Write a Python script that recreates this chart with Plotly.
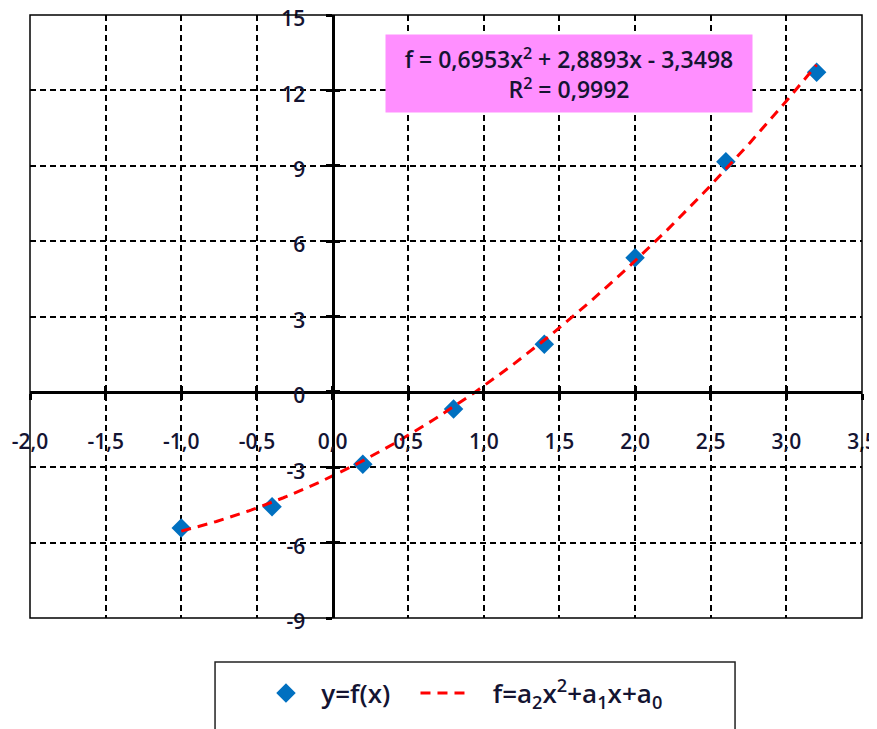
import numpy as np
import plotly.graph_objects as go

# ---- data ----
x_data = [-1.0, -0.4, 0.2, 0.8, 1.4, 2.0, 2.6, 3.2]
y_data = [-5.42, -4.57, -2.88, -0.68, 1.90, 5.34, 9.16, 12.72]
coef = [0.6953, 2.8893, -3.3498]   # a2, a1, a0 (shown fit)
r2_text = "0,9992"

x_ticks = [-2.0, -1.5, -1.0, -0.5, 0.0, 0.5, 1.0, 1.5, 2.0, 2.5, 3.0, 3.5]
x_ticktext = ["-2,0", "-1,5", "-1,0", "-0,5", "0,0", "0,5", "1,0", "1,5", "2,0", "2,5", "3,0", "3,5"]
y_ticks = [-9, -6, -3, 0, 3, 6, 9, 12, 15]
y_ticktext = ["-9", "-6", "-3", "0", "3", "6", "9", "12", "15"]

x_range = [-2.0, 3.5]
y_range = [-9, 15]

FONT = "Open Sans"
TXT = "#141432"
NB = "\u00a0"

# fitted curve from the displayed coefficients
xc = np.linspace(min(x_data), max(x_data), 200)
yc = np.polyval(coef, xc)

fig = go.Figure()
fig.add_trace(go.Scatter(
    x=x_data, y=y_data, mode="markers", name=NB + "y=f(x)" + NB * 3,
    marker=dict(symbol="diamond", size=15, color="#0070C0"),
))
fig.add_trace(go.Scatter(
    x=xc, y=yc, mode="lines",
    name=NB * 3 + "f=a<sub>2</sub>x<sup>2</sup>+a<sub>1</sub>x+a<sub>0</sub>",
    line=dict(color="#FF0000", width=3, dash="10px,7px"),
))
# dummy traces for the overlay axes (inside tick halves)
fig.add_trace(go.Scatter(x=[None], y=[None], xaxis="x2", yaxis="y", showlegend=False, hoverinfo="skip"))
fig.add_trace(go.Scatter(x=[None], y=[None], xaxis="x", yaxis="y2", showlegend=False, hoverinfo="skip"))

x_pos = (0 - y_range[0]) / (y_range[1] - y_range[0])
y_pos = (0 - x_range[0]) / (x_range[1] - x_range[0])

common_grid = dict(showgrid=True, gridcolor="black", gridwidth=1.5, griddash="6px,4px", zeroline=False)
tick_font = dict(family=FONT, size=21, color=TXT, weight=600)

fig.update_layout(
    width=869, height=721,
    margin=dict(l=22, r=15, t=7, b=111, autoexpand=False),
    paper_bgcolor="white", plot_bgcolor="white",
    font=dict(family=FONT, size=18, color="black"),
    showlegend=True,
    xaxis=dict(
        range=x_range, tickvals=x_ticks, ticktext=x_ticktext,
        anchor="free", position=x_pos,
        showline=True, linecolor="black", linewidth=3,
        ticks="outside", ticklen=6, tickwidth=3, tickcolor="black",
        ticklabelstandoff=24, tickfont=tick_font, ticklabeloverflow="allow",
        **common_grid,
    ),
    yaxis=dict(
        range=y_range, tickvals=y_ticks, ticktext=y_ticktext,
        anchor="free", position=y_pos,
        showline=True, linecolor="black", linewidth=3,
        ticks="outside", ticklen=6, tickwidth=3, tickcolor="black",
        ticklabelstandoff=16, ticklabelshift=4, tickfont=tick_font, ticklabeloverflow="allow",
        **common_grid,
    ),
    xaxis2=dict(
        range=x_range, tickvals=x_ticks, overlaying="x",
        anchor="free", position=x_pos, side="bottom",
        showline=False, showgrid=False, zeroline=False, showticklabels=False,
        ticks="inside", ticklen=6, tickwidth=3, tickcolor="black",
    ),
    yaxis2=dict(
        range=y_range, tickvals=y_ticks, overlaying="y",
        anchor="free", position=y_pos, side="left",
        showline=False, showgrid=False, zeroline=False, showticklabels=False,
        ticks="inside", ticklen=6, tickwidth=3, tickcolor="black",
    ),
    legend=dict(
        orientation="h", x=0.2734, y=-0.0857, xanchor="left", yanchor="top",
        font=dict(family=FONT, size=26, color=TXT, weight=600),
        bgcolor="rgba(0,0,0,0)", borderwidth=0,
        itemwidth=47,
    ),
)

# plot frame
fig.add_shape(type="rect", xref="paper", yref="paper", x0=0, x1=1, y0=0, y1=1,
              line=dict(color="black", width=1.5), fillcolor="rgba(0,0,0,0)", layer="above")
# legend frame (cut off at bottom like the original)
fig.add_shape(type="rect", xref="paper", yref="paper", x0=0.2224, x1=0.8474, y0=-0.30, y1=-0.073,
              line=dict(color="#222222", width=1.5), fillcolor="rgba(0,0,0,0)")

# equation box
fig.add_annotation(
    xref="paper", yref="paper", x=0.648, y=0.903, xanchor="center", yanchor="middle",
    text=f"f = {coef[0]:.4f}x<sup>2</sup> + {coef[1]:.4f}x - {abs(coef[2]):.4f}".replace(".", ",")
         + f"<br>R<sup>2</sup> = {r2_text}",
    showarrow=False, align="center",
    font=dict(family=FONT, size=23, color=TXT, weight=600),
    bgcolor="#FF8FFF", borderpad=2, width=362, height=73,
)

fig.write_html("out.html")
